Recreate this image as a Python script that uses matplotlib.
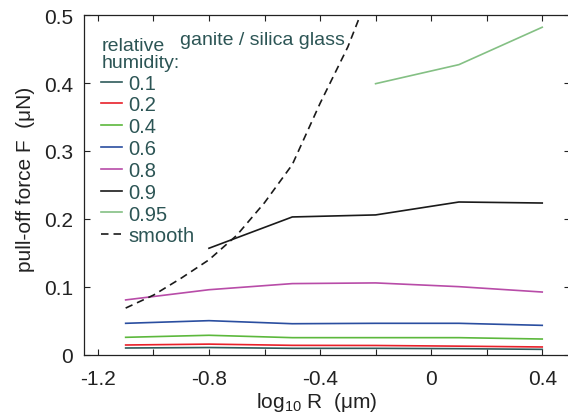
import matplotlib
matplotlib.use("Agg")
import matplotlib.pyplot as plt
from matplotlib.ticker import FixedLocator

plt.rcParams['font.family'] = ['Liberation Sans', 'DejaVu Sans']
plt.rcParams['mathtext.fontset'] = 'custom'
plt.rcParams['mathtext.rm'] = 'Liberation Sans'
plt.rcParams['mathtext.it'] = 'Liberation Sans:italic'

# ---- data ----
log_r = [-1.1, -0.8, -0.5, -0.2, 0.1, 0.4]
rh_01 = [0.0103, 0.0110, 0.0098, 0.0098, 0.0093, 0.0083]
rh_02 = [0.0147, 0.0160, 0.0142, 0.0140, 0.0130, 0.0118]
rh_04 = [0.0260, 0.0290, 0.0255, 0.0255, 0.0255, 0.0235]
rh_06 = [0.0466, 0.0505, 0.0460, 0.0466, 0.0466, 0.0436]
rh_08 = [0.0810, 0.0960, 0.1050, 0.1060, 0.1005, 0.0926]
log_r_09 = [-0.8, -0.5, -0.2, 0.1, 0.4]
rh_09 = [0.157, 0.203, 0.206, 0.225, 0.2235]
log_r_095 = [-0.2, 0.1, 0.4]
rh_095 = [0.399, 0.427, 0.482]
smooth_x = [-1.1, -1.0, -0.9, -0.8, -0.7, -0.6, -0.5, -0.4, -0.3, -0.25]
smooth_y = [0.069, 0.088, 0.113, 0.140, 0.176, 0.224, 0.280, 0.370, 0.453, 0.505]

labels = ['0.1', '0.2', '0.4', '0.6', '0.8', '0.9', '0.95']
colors = ['#2f5b5b', '#e8202a', '#5cb83c', '#2a4ea0', '#b84ca8', '#1a1a1a', '#84c084']
text_color = '#2c5555'

x_major = [-1.2, -0.8, -0.4, 0.0, 0.4]
x_major_labels = ['-1.2', '-0.8', '-0.4', '0', '0.4']
x_minor = [-1.0, -0.6, -0.2, 0.2]
y_ticks = [0.0, 0.1, 0.2, 0.3, 0.4, 0.5]
y_tick_labels = ['0', '0.1', '0.2', '0.3', '0.4', '0.5']

fig = plt.figure(figsize=(5.68, 4.14), dpi=100)
ax = fig.add_axes([84/568, 58/414, 486/568, 340/414])

series = [(log_r, rh_01), (log_r, rh_02), (log_r, rh_04), (log_r, rh_06),
          (log_r, rh_08), (log_r_09, rh_09), (log_r_095, rh_095)]
for (xs, ys), lab, c in zip(series, labels, colors):
    ax.plot(xs, ys, color=c, lw=1.2, label=lab)
ax.plot(smooth_x, smooth_y, color='#1a1a1a', lw=1.2, dashes=(4.5, 3), label='smooth')

ax.set_xlim(-1.25, 0.5)
ax.set_ylim(0, 0.5)
ax.xaxis.set_major_locator(FixedLocator(x_major))
ax.xaxis.set_minor_locator(FixedLocator(x_minor))
ax.set_xticklabels(x_major_labels)
ax.yaxis.set_major_locator(FixedLocator(y_ticks))
ax.set_yticklabels(y_tick_labels)
ax.tick_params(which='both', direction='in', top=True, right=True,
               length=4, width=0.8, labelsize=15, colors='#222222')
ax.tick_params(axis='x', which='major', pad=10)
ax.tick_params(axis='y', which='major', pad=8)
for s in ax.spines.values():
    s.set_linewidth(0.9)
    s.set_color('#222222')

ax.set_xlabel('log$_{\\mathregular{10}}$ R  (μm)', fontsize=15, color='#222222')
ax.xaxis.set_label_coords(0.479, -0.104, transform=ax.transAxes)
ax.xaxis.label.set_va('top')
ax.set_ylabel('pull-off force F  (μN)', fontsize=15, color='#222222')
ax.yaxis.set_label_coords(-0.1, 0.52, transform=ax.transAxes)

ax.text(-0.905, 0.464, 'ganite / silica glass', fontsize=14, color=text_color,
        ha='left', va='center')

leg = ax.legend(loc='upper left', bbox_to_anchor=(0.036, 0.934), frameon=False,
                title='relative\nhumidity:', fontsize=14.5, title_fontsize=14,
                handlelength=1.0, handletextpad=0.34, labelspacing=0.14,
                borderpad=0, borderaxespad=0, alignment='left')
for t in leg.get_texts():
    t.set_color(text_color)
leg.get_title().set_color(text_color)
leg.get_title().set_linespacing(0.95)

fig.savefig('out.png', dpi=100)
